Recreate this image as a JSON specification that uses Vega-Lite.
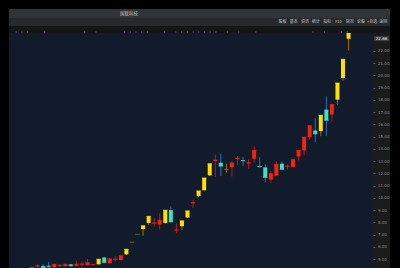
{
  "$schema": "https://vega.github.io/schema/vega-lite/v6.json",
  "background": "#000000",
  "padding": {"left": 9, "top": 9, "right": 10, "bottom": 0},
  "spacing": 0,
  "bounds": "flush",
  "config": {"view": {"stroke": null}, "axis": {"grid": false}},
  "datasets": {
    "candles": [
      {"i": 0, "o": 4.32, "h": 4.32, "l": 4.32, "c": 4.32, "lu": 1},
      {"i": 1, "o": 4.40, "h": 4.60, "l": 4.20, "c": 4.45, "lu": 0},
      {"i": 2, "o": 4.43, "h": 4.60, "l": 4.20, "c": 4.30, "lu": 0},
      {"i": 3, "o": 4.45, "h": 4.75, "l": 4.20, "c": 4.40, "lu": 0},
      {"i": 4, "o": 4.33, "h": 4.62, "l": 4.20, "c": 4.57, "lu": 0},
      {"i": 5, "o": 4.42, "h": 4.55, "l": 4.38, "c": 4.50, "lu": 0},
      {"i": 6, "o": 4.42, "h": 4.62, "l": 4.38, "c": 4.57, "lu": 0},
      {"i": 7, "o": 4.57, "h": 4.60, "l": 4.40, "c": 4.45, "lu": 0},
      {"i": 8, "o": 4.45, "h": 4.86, "l": 4.40, "c": 4.58, "lu": 0},
      {"i": 9, "o": 4.55, "h": 4.80, "l": 4.32, "c": 4.60, "lu": 0},
      {"i": 10, "o": 4.50, "h": 5.00, "l": 4.45, "c": 4.70, "lu": 0},
      {"i": 11, "o": 4.53, "h": 4.60, "l": 4.50, "c": 4.56, "lu": 0},
      {"i": 12, "o": 4.57, "h": 4.99, "l": 4.55, "c": 4.99, "lu": 1},
      {"i": 13, "o": 5.13, "h": 5.15, "l": 4.70, "c": 4.73, "lu": 0},
      {"i": 14, "o": 4.66, "h": 5.05, "l": 4.62, "c": 5.02, "lu": 0},
      {"i": 15, "o": 4.97, "h": 5.24, "l": 4.80, "c": 5.00, "lu": 0},
      {"i": 16, "o": 4.92, "h": 5.30, "l": 4.90, "c": 5.27, "lu": 0},
      {"i": 17, "o": 5.38, "h": 5.80, "l": 5.35, "c": 5.80, "lu": 1},
      {"i": 18, "o": 6.38, "h": 6.38, "l": 6.38, "c": 6.38, "lu": 1},
      {"i": 19, "o": 7.02, "h": 7.02, "l": 7.02, "c": 7.02, "lu": 1},
      {"i": 20, "o": 7.45, "h": 7.72, "l": 6.90, "c": 7.72, "lu": 1},
      {"i": 21, "o": 7.95, "h": 8.49, "l": 7.77, "c": 8.49, "lu": 1},
      {"i": 22, "o": 7.90, "h": 8.36, "l": 7.63, "c": 7.95, "lu": 0},
      {"i": 23, "o": 7.82, "h": 8.72, "l": 7.42, "c": 8.17, "lu": 0},
      {"i": 24, "o": 7.95, "h": 8.99, "l": 7.90, "c": 8.99, "lu": 1},
      {"i": 25, "o": 8.99, "h": 9.31, "l": 8.00, "c": 8.03, "lu": 0},
      {"i": 26, "o": 7.33, "h": 7.90, "l": 7.09, "c": 7.38, "lu": 0},
      {"i": 27, "o": 7.68, "h": 8.12, "l": 7.36, "c": 8.12, "lu": 1},
      {"i": 28, "o": 8.39, "h": 8.93, "l": 8.35, "c": 8.93, "lu": 1},
      {"i": 29, "o": 9.55, "h": 9.80, "l": 9.17, "c": 9.60, "lu": 0},
      {"i": 30, "o": 10.15, "h": 10.56, "l": 10.07, "c": 10.56, "lu": 1},
      {"i": 31, "o": 10.61, "h": 11.62, "l": 10.60, "c": 11.62, "lu": 1},
      {"i": 32, "o": 11.83, "h": 12.78, "l": 11.80, "c": 12.78, "lu": 1},
      {"i": 33, "o": 13.00, "h": 13.52, "l": 11.70, "c": 13.08, "lu": 0},
      {"i": 34, "o": 12.86, "h": 13.60, "l": 11.78, "c": 12.59, "lu": 0},
      {"i": 35, "o": 12.30, "h": 12.78, "l": 12.05, "c": 12.30, "lu": 0},
      {"i": 36, "o": 12.51, "h": 12.87, "l": 11.75, "c": 12.85, "lu": 0},
      {"i": 37, "o": 13.15, "h": 13.40, "l": 12.65, "c": 13.22, "lu": 0},
      {"i": 38, "o": 13.08, "h": 13.32, "l": 12.59, "c": 13.03, "lu": 0},
      {"i": 39, "o": 12.80, "h": 13.13, "l": 12.38, "c": 12.86, "lu": 0},
      {"i": 40, "o": 13.19, "h": 14.20, "l": 12.88, "c": 13.87, "lu": 0},
      {"i": 41, "o": 12.59, "h": 13.30, "l": 12.48, "c": 12.54, "lu": 0},
      {"i": 42, "o": 12.48, "h": 12.73, "l": 11.26, "c": 11.67, "lu": 0},
      {"i": 43, "o": 11.48, "h": 12.16, "l": 11.21, "c": 11.97, "lu": 0},
      {"i": 44, "o": 11.81, "h": 12.97, "l": 11.75, "c": 12.73, "lu": 0},
      {"i": 45, "o": 12.78, "h": 12.97, "l": 12.24, "c": 12.32, "lu": 0},
      {"i": 46, "o": 12.53, "h": 12.73, "l": 12.30, "c": 12.58, "lu": 0},
      {"i": 47, "o": 12.51, "h": 13.13, "l": 12.50, "c": 13.11, "lu": 0},
      {"i": 48, "o": 13.38, "h": 13.90, "l": 13.05, "c": 13.87, "lu": 0},
      {"i": 49, "o": 13.87, "h": 14.97, "l": 13.46, "c": 14.95, "lu": 0},
      {"i": 50, "o": 14.95, "h": 15.90, "l": 14.76, "c": 15.88, "lu": 0},
      {"i": 51, "o": 15.49, "h": 16.53, "l": 14.54, "c": 15.22, "lu": 0},
      {"i": 52, "o": 15.44, "h": 16.74, "l": 15.03, "c": 16.74, "lu": 1},
      {"i": 53, "o": 17.20, "h": 18.27, "l": 15.05, "c": 16.33, "lu": 0},
      {"i": 54, "o": 16.79, "h": 17.63, "l": 16.23, "c": 17.61, "lu": 0},
      {"i": 55, "o": 18.01, "h": 19.37, "l": 17.61, "c": 19.37, "lu": 1},
      {"i": 56, "o": 19.78, "h": 21.31, "l": 19.54, "c": 21.31, "lu": 1},
      {"i": 57, "o": 22.98, "h": 23.44, "l": 22.02, "c": 23.44, "lu": 1}
    ],
    "events": [
      {"i": -2}, {"i": -1}, {"i": 0}, {"i": 3}, {"i": 10}, {"i": 12}, {"i": 17}, {"i": 18}, {"i": 19}, {"i": 20}, {"i": 21}, {"i": 24}, {"i": 26}, {"i": 27}, {"i": 28}, {"i": 29}, {"i": 30}, {"i": 31}, {"i": 32}, {"i": 33}, {"i": 35}, {"i": 37}, {"i": 40}, {"i": 50}, {"i": 52}, {"i": 55}, {"i": 56}
    ],
    "toolbar": [
      {"slot": 1, "label": "股权"}, {"slot": 2, "label": "基本"}, {"slot": 3, "label": "资讯"}, {"slot": 4, "label": "统计"}, {"slot": 5, "label": "指标"}, {"slot": 6, "label": "F10"}, {"slot": 7, "label": "简况"}, {"slot": 8, "label": "论股"}, {"slot": 9, "label": "+自选"}, {"slot": 10, "label": "返回"}
    ],
    "titlebar": [{"name": "国联科技"}],
    "last": [{"price": 22.66, "label": "22.66"}]
  },
  "vconcat": [
    {
      "width": 381, "height": 9,
      "view": {"fill": "#303337", "stroke": null},
      "data": {"name": "titlebar"},
      "mark": {"type": "text", "dx": -70.5, "fontSize": 4.5, "color": "#c4c4c4", "font": "Noto Sans CJK SC", "baseline": "middle", "align": "center"},
      "encoding": {"text": {"field": "name", "type": "nominal"}}
    },
    {
      "width": 381, "height": 8,
      "view": {"fill": "#27292c", "stroke": null},
      "data": {"name": "toolbar"},
      "mark": {"type": "text", "fontSize": 4, "color": "#c8c8c8", "font": "Noto Sans CJK SC", "baseline": "middle", "align": "center"},
      "encoding": {
        "x": {"field": "slot", "type": "quantitative", "scale": {"domain": [-23.42, 10.6], "zero": false, "nice": false}, "axis": null},
        "text": {"field": "label", "type": "nominal"}
      }
    },
    {
      "width": 381, "height": 7,
      "view": {"fill": "#141517", "stroke": null},
      "data": {"name": "events"},
      "mark": {"type": "tick", "orient": "vertical", "size": 2, "thickness": 1, "color": "#b02ad4", "yOffset": 2.5},
      "encoding": {
        "x": {"field": "i", "type": "quantitative", "scale": {"domain": [-3.24, 63.49], "zero": false, "nice": false}, "axis": null}
      }
    },
    {
      "spacing": 0,
      "bounds": "flush",
      "hconcat": [
        {
          "width": 364, "height": 235,
          "view": {"fill": "#111b2b", "stroke": null},
          "data": {"name": "candles"},
          "transform": [
            {"calculate": "datum.o == datum.c ? 'flat' : (datum.lu == 1 ? 'limit' : (datum.c > datum.o ? 'up' : 'down'))", "as": "cat"}
          ],
          "encoding": {
            "x": {"field": "i", "type": "quantitative", "scale": {"domain": [-3.24, 60.5], "zero": false, "nice": false}, "axis": null}
          },
          "layer": [
            {
              "mark": {"type": "rule", "strokeWidth": 1, "clip": true},
              "encoding": {
                "y": {"field": "l", "type": "quantitative", "scale": {"domain": [4.27, 23.45], "zero": false, "nice": false}, "axis": null},
                "y2": {"field": "h"},
                "color": {"field": "cat", "type": "nominal", "scale": {"domain": ["flat", "limit", "up", "down"], "range": ["#8a7e1e", "#a06c14", "#c4160c", "#2b6cc4"]}, "legend": null}
              }
            },
            {
              "mark": {"type": "bar", "width": 4, "clip": true},
              "encoding": {
                "y": {"field": "o", "type": "quantitative"},
                "y2": {"field": "c"},
                "color": {"field": "cat", "type": "nominal", "scale": {"domain": ["flat", "limit", "up", "down"], "range": ["#8a7e1e", "#ffe000", "#f4230f", "#3fe0c2"]}, "legend": null}
              }
            },
            {
              "mark": {"type": "tick", "orient": "horizontal", "size": 4.5, "thickness": 1, "clip": true},
              "encoding": {
                "y": {"field": "c", "type": "quantitative"},
                "color": {"field": "cat", "type": "nominal", "scale": {"domain": ["flat", "limit", "up", "down"], "range": ["#8a7e1e", "#ffe000", "#f4230f", "#3fe0c2"]}, "legend": null}
              }
            }
          ],
          "resolve": {"scale": {"color": "independent"}}
        },
        {
          "width": 17, "height": 235,
          "view": {"fill": "#1b1b1b", "stroke": null},
          "data": {"name": "last"},
          "encoding": {
            "y": {
              "field": "price", "type": "quantitative",
              "scale": {"domain": [4.27, 23.45], "zero": false, "nice": false},
              "axis": {
                "orient": "left", "values": [5, 6, 7, 8, 9, 10, 11, 12, 13, 14, 15, 16, 17, 18, 19, 20, 21, 22],
                "format": ".2f", "domain": false, "ticks": true, "tickSize": -2, "tickColor": "#5a5a5a",
                "labelAlign": "left", "labelBaseline": "middle", "labelPadding": -2.5, "labelFontSize": 4,
                "labelFont": "DejaVu Sans", "labelColor": "#8f8f8f", "labelFlush": false, "labelOverlap": false,
                "labelBound": false, "title": null, "grid": false, "minExtent": 0, "maxExtent": 0
              }
            }
          },
          "layer": [
            {"mark": {"type": "tick", "orient": "horizontal", "size": 15, "thickness": 5, "color": "#4b4b4b", "yOffset": -4}},
            {
              "mark": {"type": "text", "fontSize": 4, "color": "#ececec", "yOffset": -4, "font": "DejaVu Sans", "align": "center", "baseline": "middle"},
              "encoding": {"text": {"field": "label", "type": "nominal"}}
            }
          ]
        }
      ]
    }
  ]
}
